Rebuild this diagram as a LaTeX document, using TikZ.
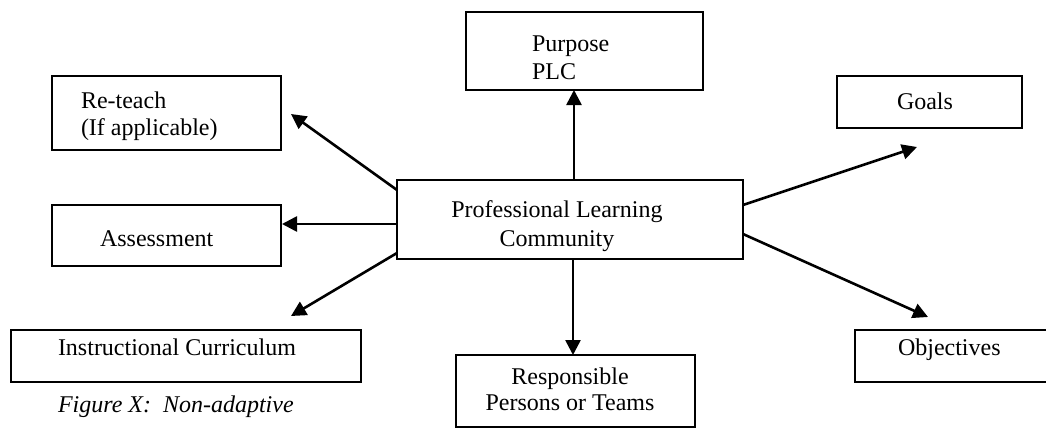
\documentclass[tikz,border=0pt]{standalone}
\usepackage{fontspec}
\setmainfont{Liberation Serif}
\usetikzlibrary{arrows.meta}

\tikzset{
  every node/.style={font=\fontsize{12pt}{13.8pt}\selectfont, inner sep=0pt, outer sep=0pt},
  box/.style={draw=black, line width=1pt, rectangle, fill=none},
  lbl/.style={anchor=base west},
  clbl/.style={anchor=base},
  arr/.style={line width=1.3pt, -{Triangle[length=7.5pt,width=7.5pt]}},
}

\begin{document}
\begin{tikzpicture}[x=0.5pt, y=-0.5pt]
  % page frame (units: half points, y downwards)
  \clip (0,0) rectangle (1046,428);
  \fill[white] (0,0) rectangle (1046,428);

  % boxes
  \node[box, minimum width=118.5pt, minimum height=39pt]   (purp)   at (584.5,51)  {};
  \node[box, minimum width=114.5pt, minimum height=37pt]   (reteach) at (166.5,113) {};
  \node[box, minimum width=92.5pt,  minimum height=26pt]   (goals)  at (929.5,102) {};
  \node[box, minimum width=173pt,   minimum height=39.5pt] (plc)    at (570,219.5) {};
  \node[box, minimum width=114.5pt, minimum height=30.5pt] (assess) at (166.5,235.5) {};
  \node[box, minimum width=175pt,   minimum height=26pt]   (instr)  at (186,356)   {};
  \node[box, minimum width=119.5pt, minimum height=36pt]   (resp)   at (575.5,391) {};
  \node[box, minimum width=97.5pt,  minimum height=26pt]   (obj)    at (952.5,356) {};

  % box texts
  \node[lbl]  (purpT1)  at (532,52)  {Purpose};
  \node[lbl]  (purpT2)  at (532,79)  {PLC};
  \node[lbl]  (reT1)    at (81,108)  {Re-teach};
  \node[lbl]  (reT2)    at (81,135)  {(If applicable)};
  \node[clbl] (goalsT)  at (925,109) {Goals};
  \node[clbl] (plcT1)   at (557,217) {Professional Learning};
  \node[clbl] (plcT2)   at (557,246) {Community};
  \node[lbl]  (assessT) at (100,246) {Assessment};
  \node[lbl]  (instrT)  at (58,355)  {Instructional Curriculum};
  \node[lbl]  (objT)    at (898,355) {Objectives};
  \node[clbl] (respT1)  at (570,384) {Responsible};
  \node[clbl] (respT2)  at (570,410) {Persons or Teams};

  % caption
  \node[lbl] (caption) at (58,412) {\itshape Figure X:~~Non-adaptive};

  % arrow end points
  \coordinate (sUp)    at (574,180);
  \coordinate (eUp)    at (574,90);
  \coordinate (sRe)    at (397,190);
  \coordinate (eRe)    at (291,114);
  \coordinate (sAs)    at (397,224);
  \coordinate (eAs)    at (282,224);
  \coordinate (sIn)    at (397,253);
  \coordinate (eIn)    at (291,316);
  \coordinate (sGo)    at (743,205);
  \coordinate (eGo)    at (917,147);
  \coordinate (sOb)    at (743,234);
  \coordinate (eOb)    at (928,317);
  \coordinate (sRs)    at (573,259);
  \coordinate (eRs)    at (573,355);

  % connectors
  \draw[arr] (sUp) -- (eUp);
  \draw[arr] (sRe) -- (eRe);
  \draw[arr] (sAs) -- (eAs);
  \draw[arr] (sIn) -- (eIn);
  \draw[arr] (sGo) -- (eGo);
  \draw[arr] (sOb) -- (eOb);
  \draw[arr] (sRs) -- (eRs);
\end{tikzpicture}
\end{document}
